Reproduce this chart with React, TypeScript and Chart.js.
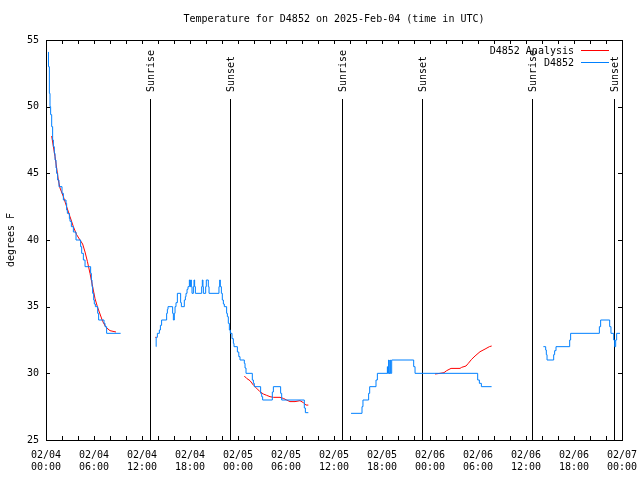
import React, { useEffect, useRef } from 'react';
import { Chart, registerables } from 'chart.js';

Chart.register(...registerables);

// ---- text ----
const TITLE = 'Temperature for D4852 on 2025-Feb-04 (time in UTC)';
const Y_LABEL = 'degrees F';
const ANALYSIS_LABEL = 'D4852 Analysis';
const OBS_LABEL = 'D4852';
const SUNRISE_LABEL = 'Sunrise';
const SUNSET_LABEL = 'Sunset';

// ---- axes ----
const X_MIN = 0; // hours since 02/04 00:00 UTC
const X_MAX = 72;
const Y_MIN = 25;
const Y_MAX = 55;
const xTickLabels: string[][] = [
  ['02/04', '00:00'], ['02/04', '06:00'], ['02/04', '12:00'], ['02/04', '18:00'],
  ['02/05', '00:00'], ['02/05', '06:00'], ['02/05', '12:00'], ['02/05', '18:00'],
  ['02/06', '00:00'], ['02/06', '06:00'], ['02/06', '12:00'], ['02/06', '18:00'],
  ['02/07', '00:00'],
];

// ---- sun events (hours) ----
const sunriseHours = [12.95, 36.97, 60.8];
const sunsetHours = [23.06, 47.06, 71.06];

// ---- observations [hour, degF] (value starts at that hour) ----
const obsSeg1: number[][] = [
  [0.29, 54.1], [0.31, 53.0], [0.42, 51.0], [0.5, 50.0], [0.58, 49.4], [0.71, 48.5], [0.83, 47.5],
  [0.92, 47.0], [1.04, 46.5], [1.13, 46.0], [1.25, 45.4], [1.33, 45.0], [1.46, 44.5], [1.62, 44.0],
  [2.0, 43.5], [2.17, 43.0], [2.5, 42.75], [2.58, 42.25], [2.67, 42.0], [2.92, 41.6], [3.0, 41.4],
  [3.17, 41.0], [3.42, 40.6], [3.75, 40.0], [4.33, 39.5], [4.46, 39.0], [4.67, 38.5], [4.88, 38.0],
  [5.58, 37.5], [5.67, 37.0], [5.75, 36.5], [5.83, 36.0], [5.96, 35.5], [6.04, 35.2], [6.17, 35.0],
  [6.46, 34.5], [6.58, 34.0], [7.25, 33.75], [7.38, 33.5], [7.58, 33.0], [9.33, 33.0],
];
const obsSeg2: number[][] = [
  [13.75, 32.0], [13.77, 32.7], [13.92, 33.0], [14.17, 33.25], [14.3, 33.6], [14.45, 34.0],
  [15.08, 34.5], [15.17, 34.8], [15.25, 35.0], [15.83, 34.5], [15.92, 34.0], [16.04, 34.5],
  [16.13, 35.0], [16.25, 35.3], [16.42, 36.0], [16.83, 35.3], [16.92, 35.0], [17.29, 35.5],
  [17.42, 35.75], [17.5, 36.0], [17.63, 36.3], [17.75, 36.5], [17.92, 37.0], [18.0, 36.5],
  [18.08, 37.0], [18.17, 36.5], [18.25, 36.0], [18.42, 36.5], [18.5, 37.0], [18.58, 36.5],
  [18.67, 36.0], [19.46, 36.5], [19.54, 37.0], [19.62, 36.5], [19.67, 36.0], [19.96, 36.5],
  [20.04, 37.0], [20.29, 36.5], [20.38, 36.0], [21.62, 36.5], [21.71, 37.0], [21.79, 36.5],
  [21.92, 36.0], [22.04, 35.5], [22.17, 35.2], [22.29, 35.0], [22.58, 34.5], [22.67, 34.25],
  [22.79, 33.75], [22.92, 33.25], [23.04, 33.0], [23.25, 32.6], [23.42, 32.25], [23.5, 32.0],
  [23.92, 31.6], [24.1, 31.25], [24.25, 31.0], [24.79, 30.75], [24.88, 30.4], [25.0, 30.0],
  [25.79, 29.5], [25.92, 29.25], [26.04, 29.0], [26.83, 28.5], [26.96, 28.25], [27.08, 28.0],
  [28.29, 28.6], [28.42, 29.0], [29.33, 28.5], [29.46, 28.0], [32.29, 27.4], [32.42, 27.05],
  [32.79, 27.05],
];
const obsSeg3: number[][] = [
  [38.13, 27.0], [39.5, 27.5], [39.62, 28.0], [40.33, 28.5], [40.46, 29.0], [41.25, 29.5],
  [41.42, 30.0], [42.67, 30.5], [42.71, 30.0], [42.83, 31.0], [42.88, 30.0], [43.0, 31.0],
  [43.04, 30.0], [43.21, 31.0], [45.96, 30.5], [46.13, 30.0], [53.96, 29.5],
  [54.17, 29.25], [54.42, 29.0], [55.7, 29.0],
];
const obsSeg4: number[][] = [
  [62.17, 32.0], [62.46, 31.75], [62.54, 31.4], [62.63, 31.0], [63.46, 31.4], [63.58, 31.7],
  [63.75, 32.0], [65.46, 32.5], [65.58, 33.0], [69.17, 33.5], [69.33, 34.0], [70.46, 33.5],
  [70.62, 33.0], [70.96, 32.5], [71.08, 32.0], [71.21, 32.5], [71.33, 33.0], [71.75, 33.0],
];

// ---- analysis [hour, degF] ----
const anaSeg1: number[][] = [
  [0.71, 47.8], [0.92, 47.0], [1.13, 46.25], [1.33, 45.4], [1.54, 44.5], [1.75, 43.9],
  [2.17, 43.25], [2.58, 42.5], [3.0, 41.75], [3.42, 41.0], [3.83, 40.4], [4.25, 40.0],
  [4.58, 39.7], [4.88, 39.1], [5.17, 38.4], [5.5, 37.5], [5.83, 36.5], [6.13, 35.6],
  [6.42, 35.0], [6.75, 34.45], [7.08, 33.9], [7.5, 33.45], [8.0, 33.2], [8.75, 33.1],
];
const anaSeg2: number[][] = [[13.66, 32.7], [13.8, 32.7]];
const anaSeg3: number[][] = [
  [24.79, 29.8], [25.08, 29.62], [25.5, 29.45], [25.92, 29.12], [26.33, 28.88], [26.75, 28.62],
  [27.17, 28.45], [27.58, 28.35], [28.0, 28.25], [28.42, 28.2], [29.25, 28.2], [29.67, 28.12],
  [30.08, 28.0], [30.5, 27.88], [31.13, 27.88], [31.75, 27.95], [32.17, 27.8], [32.5, 27.62],
  [32.79, 27.62],
];
const anaSeg4: number[][] = [
  [48.63, 29.95], [49.25, 30.0], [49.75, 30.05], [50.08, 30.2], [50.63, 30.37], [51.75, 30.37],
  [51.96, 30.45], [52.5, 30.55], [52.79, 30.75], [53.2, 31.05], [53.63, 31.3], [54.25, 31.62],
  [54.88, 31.82], [55.42, 32.0], [55.71, 32.05],
];

const obsSegments = [obsSeg1, obsSeg2, obsSeg3, obsSeg4];
const anaSegments = [anaSeg1, anaSeg2, anaSeg3, anaSeg4];

const RED = '#ff0000';
const BLUE = '#0080ff';
const FONT_FAMILY = '"DejaVu Sans Mono", monospace';
const FONT = '10px ' + FONT_FAMILY;

function joinSegments(segs: number[][][]) {
  const out: { x: number; y: number | null }[] = [];
  segs.forEach((seg, i) => {
    if (i > 0) {
      const prev = segs[i - 1];
      out.push({ x: (prev[prev.length - 1][0] + seg[0][0]) / 2, y: null });
    }
    seg.forEach(([x, y]) => out.push({ x, y }));
  });
  return out;
}

const crisp = (v: number) => Math.round(v) + 0.5;

const decorPlugin = {
  id: 'gnuplotDecor',
  beforeDatasetsDraw(chart: any) {
    const { ctx, chartArea: a, scales } = chart;
    const x = scales.x;
    ctx.save();
    ctx.strokeStyle = '#000';
    ctx.fillStyle = '#000';
    ctx.lineWidth = 1;
    ctx.font = FONT;
    const drawSun = (h: number, label: string) => {
      const px = crisp(x.getPixelForValue(h));
      ctx.beginPath();
      ctx.moveTo(px, a.top + 59);
      ctx.lineTo(px, a.bottom);
      ctx.stroke();
      ctx.save();
      ctx.translate(px + 0.5, a.top + 52);
      ctx.rotate(-Math.PI / 2);
      ctx.textAlign = 'left';
      ctx.textBaseline = 'middle';
      ctx.fillText(label, 0, 0);
      ctx.restore();
    };
    sunriseHours.forEach((h) => drawSun(h, SUNRISE_LABEL));
    sunsetHours.forEach((h) => drawSun(h, SUNSET_LABEL));
    ctx.restore();
  },
  afterDraw(chart: any) {
    const { ctx, chartArea: a, scales } = chart;
    const x = scales.x;
    const y = scales.y;
    ctx.save();
    ctx.strokeStyle = '#000';
    ctx.lineWidth = 1;
    // border
    ctx.strokeRect(crisp(a.left), crisp(a.top), Math.round(a.right - a.left), Math.round(a.bottom - a.top));
    // inward ticks
    ctx.beginPath();
    x.ticks.forEach((t: any) => {
      const px = crisp(x.getPixelForValue(t.value));
      ctx.moveTo(px, a.bottom);
      ctx.lineTo(px, a.bottom - 4);
      ctx.moveTo(px, a.top);
      ctx.lineTo(px, a.top + 4);
    });
    y.ticks.forEach((t: any) => {
      const py = crisp(y.getPixelForValue(t.value));
      ctx.moveTo(a.left, py);
      ctx.lineTo(a.left + 4, py);
      ctx.moveTo(a.right, py);
      ctx.lineTo(a.right - 4, py);
    });
    ctx.stroke();
    // title
    ctx.fillStyle = '#000';
    ctx.font = FONT;
    ctx.textAlign = 'center';
    ctx.textBaseline = 'middle';
    ctx.fillText(TITLE, (a.left + a.right) / 2, 19);
    // legend
    const rows = [
      { label: ANALYSIS_LABEL, color: RED },
      { label: OBS_LABEL, color: BLUE },
    ];
    rows.forEach((r, i) => {
      const ry = a.top + 11 + i * 12;
      ctx.fillStyle = '#000';
      ctx.textAlign = 'right';
      ctx.fillText(r.label, a.right - 48, ry);
      ctx.strokeStyle = r.color;
      ctx.beginPath();
      ctx.moveTo(a.right - 41, ry - 0.5);
      ctx.lineTo(a.right - 13, ry - 0.5);
      ctx.stroke();
    });
    ctx.restore();
  },
};

export default function App() {
  const canvasRef = useRef<HTMLCanvasElement | null>(null);

  useEffect(() => {
    if (!canvasRef.current) return;
    const chart = new Chart(canvasRef.current, {
      type: 'line',
      data: {
        datasets: [
          {
            label: OBS_LABEL,
            data: joinSegments(obsSegments),
            borderColor: BLUE,
            borderWidth: 1,
            pointRadius: 0,
            stepped: 'before',
            spanGaps: false,
            fill: false,
          },
          {
            label: ANALYSIS_LABEL,
            data: joinSegments(anaSegments),
            borderColor: RED,
            borderWidth: 1,
            pointRadius: 0,
            tension: 0,
            spanGaps: false,
            fill: false,
          },
        ],
      },
      options: {
        animation: false,
        responsive: false,
        devicePixelRatio: 1,
        events: [],
        layout: { padding: { top: 40, right: 18, left: 0, bottom: 0 } },
        plugins: {
          legend: { display: false },
          title: { display: false },
          tooltip: { enabled: false },
        },
        scales: {
          x: {
            type: 'linear',
            min: X_MIN,
            max: X_MAX,
            grid: { display: false, drawTicks: false },
            border: { display: false },
            ticks: {
              stepSize: 2,
              autoSkip: false,
              maxRotation: 0,
              minRotation: 0,
              padding: 9,
              color: '#000',
              font: { family: FONT_FAMILY, size: 10 },
              callback: (v: any) => {
                const n = Number(v);
                return n % 6 === 0 ? xTickLabels[n / 6] : '';
              },
            },
            afterFit: (s: any) => {
              s.height = 40;
              s.paddingLeft = 0;
              s.paddingRight = 0;
            },
          },
          y: {
            min: Y_MIN,
            max: Y_MAX,
            grid: { display: false, drawTicks: false },
            border: { display: false },
            ticks: {
              stepSize: 5,
              padding: 7,
              color: '#000',
              font: { family: FONT_FAMILY, size: 10 },
            },
            title: {
              display: true,
              text: Y_LABEL,
              color: '#000',
              font: { family: FONT_FAMILY, size: 10 },
              padding: { top: 5, bottom: 0 },
            },
            afterFit: (s: any) => {
              s.width = 46;
            },
          },
        },
      },
      plugins: [decorPlugin],
    } as any);
    return () => chart.destroy();
  }, []);

  return (
    <div style={{ position: 'absolute', left: 0, top: 0, width: 640, height: 480, background: '#fff' }}>
      <canvas ref={canvasRef} width={640} height={480} />
    </div>
  );
}
